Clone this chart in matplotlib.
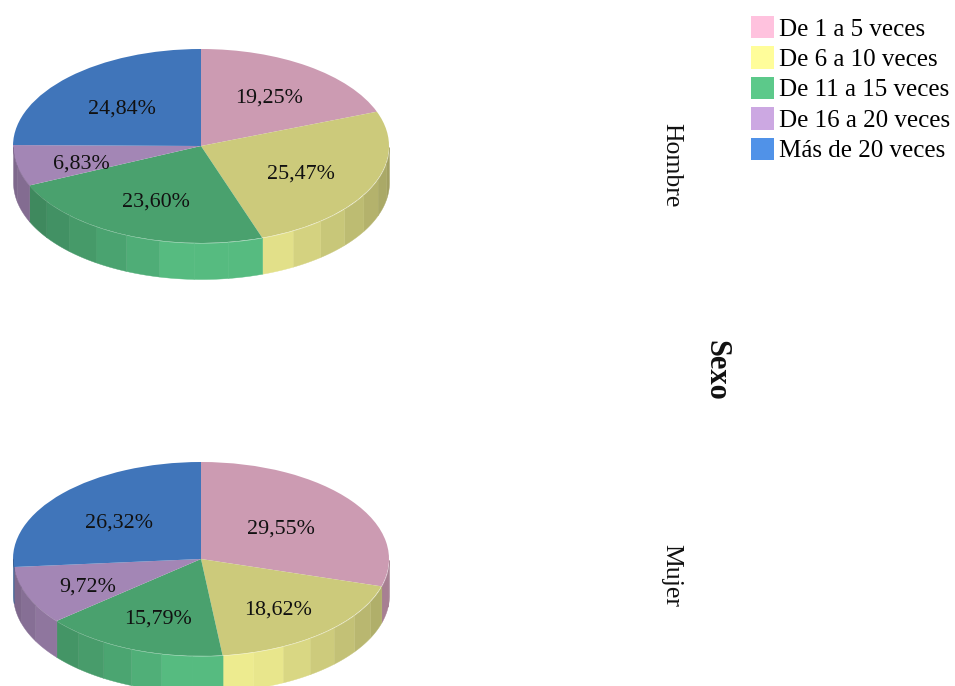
import numpy as np
import matplotlib
matplotlib.use('Agg')
import matplotlib.pyplot as plt
from matplotlib.patches import Patch

W, H = 955, 686
plt.rcParams['font.family'] = ['Liberation Serif', 'DejaVu Serif']

categorias = ['De 1 a 5 veces', 'De 6 a 10 veces', 'De 11 a 15 veces', 'De 16 a 20 veces', 'Más de 20 veces']
colores = ['#FFC2DE', '#FFFD9A', '#5CC98A', '#CCA8E2', '#5092E8']
hombre = [19.25, 25.47, 23.60, 6.83, 24.84]
mujer = [29.55, 18.62, 15.79, 9.72, 26.32]
etiq_hombre = ['19,25%', '25,47%', '23,60%', '6,83%', '24,84%']
etiq_mujer = ['29,55%', '18,62%', '15,79%', '9,72%', '26,32%']
pos_hombre = [(269, 98), (301, 174), (156, 202), (81, 164), (122, 109)]
pos_mujer = [(281, 529), (278, 610), (158, 619), (88, 587), (119, 523)]


def oscurecer(c, f):
    return tuple(min(1, v * f) for v in matplotlib.colors.to_rgb(c))


def pastel(fig, valores, etiquetas, posiciones, cx, cy, rx, ry, prof):
    # ejes en pixeles, la parte de abajo deja sitio para el lateral
    ax = fig.add_axes([(cx - rx) / W, 1 - (cy + ry + prof) / H, 2 * rx / W, (2 * ry + prof) / H])
    ax.pie(valores, colors=[oscurecer(c, 0.8) for c in colores], startangle=90,
           counterclock=False, radius=1, wedgeprops={'linewidth': 0})
    ax.set_aspect('auto')
    ax.set_xlim(-1, 1)
    d = prof / ry
    ax.set_ylim(-1 - d, 1)

    # lateral por tiras, mas claro cerca del frente
    frac = np.cumsum([0] + list(valores)) / sum(valores)
    for i, c in enumerate(colores):
        a0 = 90 - 360 * frac[i]
        a1 = 90 - 360 * frac[i + 1]
        n = max(1, int(round((a0 - a1) / 10)))
        bordes = np.linspace(a0, a1, n + 1)
        for b0, b1 in zip(bordes[:-1], bordes[1:]):
            t = np.radians(np.linspace(b0, b1, 12))
            if np.sin(t).min() > 0.001:
                continue
            t = t[np.sin(t) <= 0.001] if np.sin(t).max() > 0.001 else t
            if len(t) < 2:
                continue
            x = np.cos(t)
            y = np.sin(t)
            med = np.degrees(np.arctan2(y.mean(), x.mean()))
            sep = abs(((med + 85) + 180) % 360 - 180)
            f = 0.93 - 0.31 * min(max(sep - 14, 0) / 70, 1.0) ** 0.75
            ax.fill_between(x, y - d, y, color=oscurecer(c, f), linewidth=0.3)

    for texto, (px, py) in zip(etiquetas, posiciones):
        fig.text(px / W, 1 - py / H, texto, ha='center', va='center', fontsize=15.8, color='#111111')


fig = plt.figure(figsize=(W / 100, H / 100), dpi=100)
pastel(fig, hombre, etiq_hombre, pos_hombre, 201, 146, 188, 97, 36)
pastel(fig, mujer, etiq_mujer, pos_mujer, 201, 559, 188, 97, 36)

fig.text(671 / W, 1 - 165 / H, 'Hombre', rotation=270, ha='center', va='center', fontsize=18.5, color='#111111')
fig.text(671 / W, 1 - 576 / H, 'Mujer', rotation=270, ha='center', va='center', fontsize=18.5, color='#111111')
fig.text(716 / W, 1 - 370 / H, 'Sexo', rotation=270, ha='center', va='center', fontsize=22, fontweight='bold', color='#111111')

fig.legend(handles=[Patch(facecolor=c, edgecolor='none', label=l) for c, l in zip(colores, categorias)],
           loc='upper left', bbox_to_anchor=(751 / W, 1 - 16 / H), bbox_transform=fig.transFigure,
           frameon=False, fontsize=18, handlelength=0.92, handleheight=1.0, handletextpad=0.18,
           labelspacing=0.225, borderpad=0, borderaxespad=0)

fig.savefig('out.png', dpi=100)
